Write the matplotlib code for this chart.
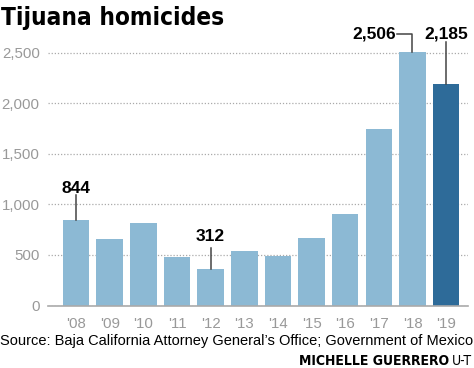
import matplotlib.pyplot as plt

years = ["'08", "'09", "'10", "'11", "'12", "'13", "'14", "'15", "'16", "'17", "'18", "'19"]
homicides = [844, 654, 818, 476, 364, 538, 492, 667, 907, 1741, 2506, 2185]
yticks = [0, 500, 1000, 1500, 2000, 2500]
ytick_labels = ["0", "500", "1,000", "1,500", "2,000", "2,500"]
callout_text = {0: "844", 4: "312", 10: "2,506", 11: "2,185"}

light = "#8cb9d4"
dark = "#2e6b99"
gray = "#999999"

fig = plt.figure(figsize=(4.74, 3.68), dpi=100)
ax = fig.add_axes([48 / 474, 62.5 / 368, 420 / 474, 263.1 / 368])

x = list(range(len(years)))
colors = [light] * (len(years) - 1) + [dark]
ax.bar(x, homicides, width=0.79, color=colors, zorder=2)

ax.set_ylim(0, 2600)
ax.set_xlim(-0.833, 11.65)
ax.set_yticks(yticks)
ax.set_yticklabels(ytick_labels)
ax.set_xticks(x)
ax.set_xticklabels(years)
ax.tick_params(length=0, labelsize=10.8, labelcolor=gray, pad=6)
for lab in ax.get_xticklabels() + ax.get_yticklabels():
    lab.set_family("Liberation Sans")
ax.tick_params(axis="x", pad=8)
ax.yaxis.grid(True, linestyle=(0, (1, 1.5)), color="#aaaaaa", linewidth=0.9)
for s in ["top", "right", "left"]:
    ax.spines[s].set_visible(False)
ax.spines["bottom"].set_color("#aaaaaa")
ax.spines["bottom"].set_linewidth(1.2)

bold = dict(fontsize=12.5, fontweight="bold", family="Liberation Sans", color="black")
lc = "#444444"

# '08 callout
ax.plot([0, 0], [homicides[0], 1090], color=lc, lw=1.1, zorder=3)
ax.text(0, 1160, callout_text[0], ha="center", va="center", **bold)
# '12 callout
ax.plot([4, 4], [homicides[4], 570], color=lc, lw=1.1, zorder=3)
ax.text(4, 680, callout_text[4], ha="center", va="center", **bold)
# '18 callout
ax.plot([9.55, 10, 10], [2680, 2680, homicides[10]], color=lc, lw=1.1,
        zorder=3, clip_on=False)
ax.text(9.5, 2680, callout_text[10], ha="right", va="center", **bold)
# '19 callout
ax.plot([11, 11], [homicides[11], 2600], color=lc, lw=1.1, zorder=3, clip_on=False)
ax.text(11, 2680, callout_text[11], ha="center", va="center", **bold)

fig.text(0.003, 0.985, "Tijuana homicides", ha="left", va="top",
         fontsize=17.5, fontweight="bold", family="DejaVu Sans", fontstretch="condensed")
fig.text(0.0, (368 - 341) / 368, "Source: Baja California Attorney General\u2019s Office; Government of Mexico",
         ha="left", va="center", fontsize=10.5, family="Liberation Sans")
fig.text(449 / 474, (368 - 361) / 368, "MICHELLE GUERRERO", ha="right", va="center",
         fontsize=10, fontweight="bold", family="DejaVu Sans", fontstretch="condensed")
fig.text(452 / 474, (368 - 361) / 368, "U-T", ha="left", va="center",
         fontsize=10, family="DejaVu Sans", fontstretch="condensed")

fig.savefig("out.png", dpi=100)
